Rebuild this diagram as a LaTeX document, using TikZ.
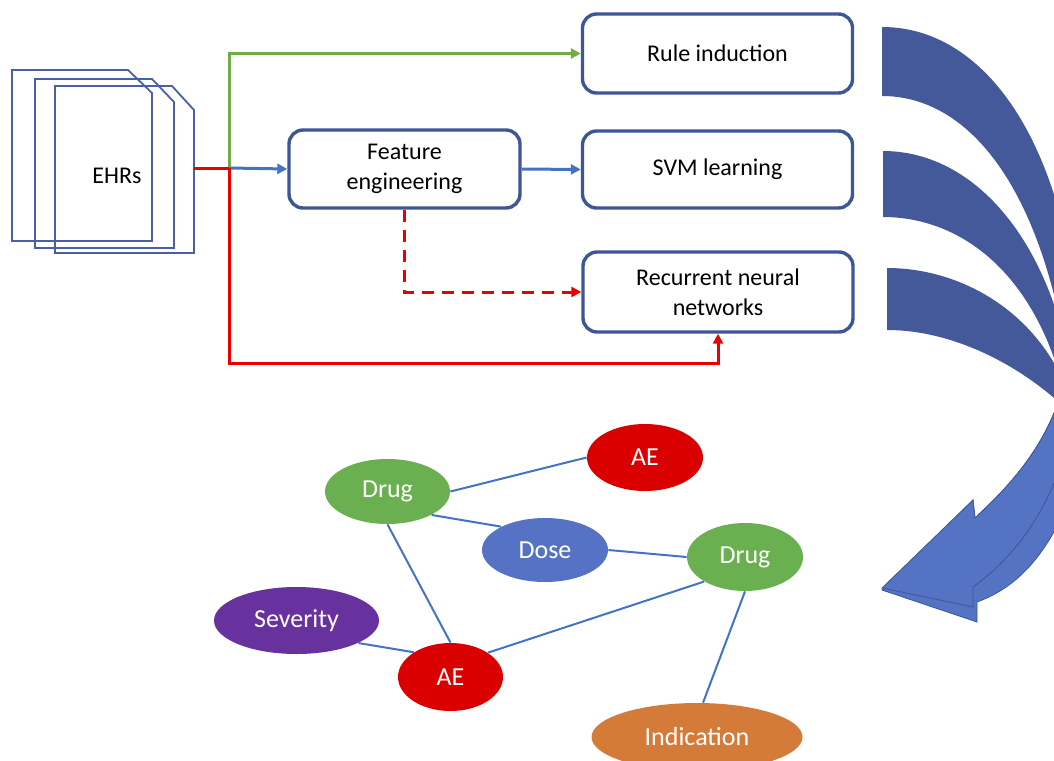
\documentclass[tikz,border=0pt]{standalone}
\usepackage{fontspec}
\setmainfont{Carlito}
\usetikzlibrary{arrows.meta,shapes.geometric}

\definecolor{boxblue}{RGB}{61,86,150}
\definecolor{docblue}{RGB}{74,96,165}
\definecolor{linkblue}{RGB}{68,114,196}
\definecolor{flowgreen}{RGB}{112,173,71}
\definecolor{flowred}{RGB}{235,0,0}
\definecolor{druggreen}{RGB}{106,176,80}
\definecolor{aered}{RGB}{218,0,0}
\definecolor{doseblue}{RGB}{85,114,196}
\definecolor{sevpurple}{RGB}{104,50,158}
\definecolor{indorange}{RGB}{212,123,58}
\definecolor{darkband}{RGB}{68,89,154}
\definecolor{lightband}{RGB}{85,115,195}

\begin{document}
\begin{tikzpicture}[x=0.5pt, y=-0.5pt,
	box/.style={draw=boxblue, line width=1.7pt, rounded corners=7pt, fill=white, align=center,
		font=\fontsize{12}{15}\selectfont, minimum width=135pt, minimum height=39.5pt},
	blob/.style={ellipse, inner sep=0pt, text=white, font=\fontsize{13}{15}\selectfont},
	doc/.style={draw=docblue, line width=0.9pt},
	link/.style={draw=linkblue, line width=1pt},
	flow/.style={line width=1.5pt, -{Triangle[length=5pt, width=5pt]}}
	]
		\useasboundingbox (0, 0) rectangle (1054, 760);
		\clip (0, 0) rectangle (1054, 760);
		
		% curved arrow
		\fill[darkband] (882, 27) .. controls (975, 27) and (1045, 120) .. (1070, 260) -- (1062, 330) .. controls (1030, 170) and (960, 96) .. (882, 96) -- cycle;
		\fill[darkband] (883, 151) .. controls (960, 151) and (1030, 215) .. (1062, 330) -- (1058, 370) .. controls (1025, 265) and (955, 217) .. (883, 217) -- cycle;
		\fill[darkband] (887, 268) .. controls (950, 268) and (1020, 300) .. (1058, 370) -- (1075, 405) -- (1062, 405) .. controls (1015, 362) and (950, 330) .. (887, 330) -- cycle;
		\filldraw[fill=lightband, draw=boxblue, line width=0.4pt] (882, 590) -- (977, 622) -- (977, 602) .. controls (1010, 590) and (1040, 565) .. (1065, 510) -- (1075, 390) -- (1062, 390) .. controls (1045, 450) and (1005, 490) .. (975, 518) -- (973, 500) -- cycle;
		\filldraw[fill=lightband, draw=boxblue, line width=0.4pt] (1062, 390) .. controls (1045, 450) and (1005, 490) .. (975, 518) -- (973, 500) -- (882, 588) -- (973, 607) -- (973, 587) .. controls (1010, 560) and (1045, 520) .. (1068, 445) -- (1075, 390) -- cycle;
		
		% records
		\draw[doc] (12, 70) -- (128, 70) -- (152, 93) -- (152, 241) -- (12, 241) -- cycle;
		\draw[doc] (35, 79) -- (152, 79) -- (174, 102) -- (174, 248) -- (35, 248) -- cycle;
		\draw[doc] (55, 86) -- (172, 86) -- (194, 110) -- (194, 253) -- (55, 253) -- cycle;
		\node[font=\fontsize{12}{15}\selectfont] (ehr) at (117, 176) {EHRs};
		
		\coordinate (ehrout) at (194, 168);
		\coordinate (split) at (229, 168);
		\coordinate (low) at (229, 363);
		
		\node[box] (rule) at (717.5, 53.5) {Rule induction};
		\node[box, minimum width=115.5pt, minimum height=39pt] (feat) at (404.5, 169) {Feature\\engineering};
		\node[box, minimum height=38.5pt] (svm) at (717.5, 169.5) {SVM learning};
		\node[box, minimum height=40pt] (rnn) at (718, 292) {Recurrent neural\\networks};
		
		\draw[flow, flowgreen] (ehrout) -- (split) |- (rule.west);
		\draw[flow, linkblue] (split) -- (feat.west);
		\draw[flow, linkblue] (feat.east) -- (svm.west);
		\draw[flowred, line width=1.5pt] (ehrout) -- (split);
		\draw[flow, flowred] (split) -- (low) -| (rnn.south);
		\draw[flow, flowred, dash pattern=on 6pt off 4pt] (feat.south) |- (rnn.west);
		
		% graph
		\node[blob, fill=druggreen, minimum width=62.5pt, minimum height=32.5pt] (drugA) at (387.5, 491.5) {Drug};
		\node[blob, fill=aered, minimum width=58pt, minimum height=33.5pt] (aeA) at (645, 457.5) {AE};
		\node[blob, fill=doseblue, minimum width=63pt, minimum height=32pt] (dose) at (545, 550) {Dose};
		\node[blob, fill=druggreen, minimum width=58pt, minimum height=34pt] (drugB) at (745, 557) {Drug};
		\node[blob, fill=sevpurple, minimum width=82.5pt, minimum height=33.5pt] (sev) at (296.5, 620.5) {Severity};
		\node[blob, fill=aered, minimum width=52.5pt, minimum height=34pt] (aeB) at (450.5, 677) {AE};
		\node[blob, fill=indorange, minimum width=105.5pt, minimum height=34pt] (ind) at (697, 737) {Indication};
		
		\draw[link] (drugA.east) -- (aeA.west);
		\draw[link] (drugA.-28) -- (dose.152);
		\draw[link] (dose.east) -- (drugB.west);
		\draw[link] (drugA.south) -- (aeB.north);
		\draw[link] (sev.-20) -- (aeB.146);
		\draw[link] (aeB.33) -- (drugB.-149);
		\draw[link] (drugB.south) -- (ind.80);
	\end{tikzpicture}
\end{document}
